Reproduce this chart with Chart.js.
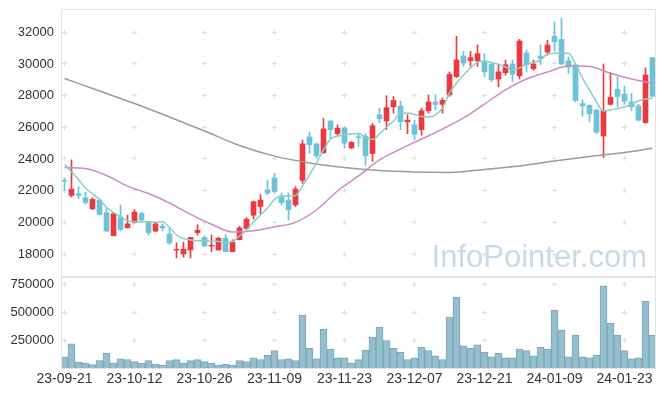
<!DOCTYPE html>
<html>
<head>
<meta charset="utf-8">
<script src="https://cdn.jsdelivr.net/npm/chart.js@4.4.0/dist/chart.umd.min.js"></script>
<style>
  html, body { margin: 0; padding: 0; background: #fff; }
  #wrap { position: relative; width: 665px; height: 396px; overflow: hidden; }
  #priceCanvas { position: absolute; left: 0; top: 0; }
  #volCanvas { position: absolute; left: 0; top: 262px; }
</style>
</head>
<body>
<div id="wrap">
  <canvas id="priceCanvas" width="665" height="292"></canvas>
  <canvas id="volCanvas" width="665" height="134"></canvas>
</div>
<script>
// x ticks (trading day index -> label)
const tickIdx = [0, 10, 20, 30, 40, 50, 60, 70, 80];
const tickLabels = ['23-09-21', '23-10-12', '23-10-26', '23-11-09', '23-11-23', '23-12-07', '23-12-21', '24-01-09', '24-01-23'];
const priceTicks = [18000, 20000, 22000, 24000, 26000, 28000, 30000, 32000];
const volTicks = [250000, 500000, 750000];

const opens = [22650, 21700, 21800, 21550, 20850, 21400, 20600, 19150, 20350, 19650, 20000, 20550, 20000, 19450, 19750, 19250, 18250, 18000, 18250, 19350,
  19050, 18500, 18250, 19000, 18150, 18900, 19600, 20450, 21000, 22050, 22800, 21600, 21400, 21100, 22650, 25400, 24950, 24400, 26400, 25600,
  25950, 24700, 25400, 25450, 24350, 26800, 26400, 27300, 27350, 26350, 26150, 25850, 27050, 27600, 27450, 28050, 29200, 30500, 30200, 30200,
  30150, 30000, 29050, 29450, 30000, 29250, 30700, 29700, 30500, 30750, 31750, 31550, 30200, 29950, 27500, 27400, 27100, 25450, 27450, 28400,
  28100, 27600, 27350, 26300, 30400];
const highs = [22800, 23950, 22250, 21900, 21550, 21400, 20900, 20600, 21100, 20450, 20800, 20650, 20050, 20000, 19900, 19650, 18700, 18750, 19050, 19850,
  19150, 19200, 19050, 19200, 18900, 19750, 20300, 21350, 21750, 22650, 23100, 21850, 21850, 22250, 25200, 25700, 25000, 26550, 26450, 26150,
  26000, 25100, 25600, 25600, 26250, 27200, 28000, 27950, 27650, 26800, 26450, 27200, 28050, 28050, 27850, 29500, 31750, 30800, 30800, 31200,
  30650, 30050, 30000, 30250, 30250, 31550, 30900, 30250, 31200, 31500, 32650, 32900, 30450, 30000, 27750, 27400, 27100, 30000, 29450, 29200,
  28600, 28150, 27450, 29750, 30400];
const lows = [22000, 21600, 21500, 21150, 20800, 20450, 19400, 19150, 19450, 19650, 19950, 20100, 19200, 19400, 19450, 18600, 17750, 17800, 17750, 19200,
  18450, 18150, 18250, 18150, 18150, 18900, 19550, 20200, 20550, 21750, 21850, 21100, 20150, 21000, 22450, 24350, 24050, 24350, 25300, 25450,
  24700, 24650, 24800, 23600, 23850, 26300, 25850, 26900, 25850, 25600, 25200, 25500, 26900, 27100, 26900, 27950, 29150, 29850, 29850, 29850,
  29200, 28900, 28550, 29300, 28900, 29050, 29500, 29600, 29950, 30550, 30800, 29950, 29400, 27600, 26700, 26350, 25600, 24100, 27400, 27300,
  27450, 27050, 26400, 26250, 27950];
const closes = [22600, 22100, 21700, 21250, 21450, 20500, 19450, 20550, 19550, 19900, 20650, 20150, 19350, 19900, 19650, 18700, 18300, 18300, 19050, 19500,
  18500, 18550, 19000, 18150, 18750, 19650, 20200, 21300, 21400, 21850, 21950, 21250, 20800, 22100, 24950, 24900, 24200, 25900, 25850, 25950,
  25000, 25050, 25350, 24200, 26100, 26550, 27250, 27700, 26350, 26450, 25550, 27050, 27600, 27450, 27700, 29350, 30250, 30050, 30400, 30650,
  29500, 29000, 29500, 29950, 29350, 31450, 29950, 30000, 30350, 31200, 31400, 30000, 29800, 27700, 27350, 26850, 25700, 27050, 27900, 27950,
  27650, 27300, 26450, 29300, 27950];
const volumes = [99000, 217000, 54000, 45000, 30000, 66000, 134000, 45000, 81000, 75000, 57000, 45000, 66000, 36000, 27000, 66000, 75000, 45000, 66000, 75000,
  57000, 45000, 27000, 36000, 27000, 66000, 57000, 90000, 75000, 116000, 155000, 75000, 81000, 66000, 472000, 179000, 81000, 348000, 170000, 90000,
  90000, 45000, 75000, 161000, 277000, 366000, 244000, 179000, 143000, 75000, 90000, 188000, 155000, 108000, 75000, 455000, 633000, 197000, 179000, 206000,
  143000, 99000, 134000, 90000, 90000, 170000, 155000, 108000, 188000, 170000, 517000, 339000, 99000, 294000, 99000, 90000, 116000, 733000, 401000, 294000,
  155000, 81000, 90000, 597000, 294000];

// moving averages
const ma5 = [23650, 23200, 22700, 22150, 21800, 21450, 20950, 20620, 20360, 20080, 20030, 20030, 20030, 20020, 20030, 19680, 19200, 18980, 18880, 18840,
  18840, 18820, 18790, 18730, 18790, 19140, 19520, 20020, 20460, 20900, 21450, 21660, 21660, 21700, 22290, 22990, 23750, 24570, 25260, 25450,
  25520, 25580, 25610, 25360, 25230, 25600, 26020, 26400, 26870, 26900, 26810, 26680, 26650, 26780, 27220, 28170, 28800, 29300, 29750, 30120,
  30190, 30090, 29970, 29810, 29620, 29750, 30000, 30090, 30250, 30630, 30670, 30670, 30670, 30000, 29110, 28360, 27600, 27030, 27090, 27190,
  27280, 27470, 27660, 27790, 27830];
const ma20Idx = [0, 3, 6, 9, 12, 15, 18, 21, 24, 27, 30, 33, 36, 39, 42, 45, 48, 51, 54, 57, 60, 63, 66, 69, 72, 75, 78, 81, 84];
const ma20 = [23460, 23400, 22960, 22290, 21820, 21220, 20500, 19880, 19390, 19470, 19710, 20000, 20780, 21980, 22930, 23940, 24630, 25260, 25890, 26590,
  27470, 28360, 29050, 29490, 29870, 29840, 29410, 29050, 28780];
const ma120Idx = [0, 5, 10, 15, 20, 25, 30, 35, 40, 45, 50, 55, 60, 65, 70, 75, 80, 84];
const ma120 = [29085, 28290, 27500, 26650, 25770, 24850, 24180, 23750, 23460, 23270, 23180, 23150, 23340, 23560, 23870, 24160, 24410, 24680];

const UP = '#ea3a40';
const DOWN = '#6cc3d8';
const GRID = '#dedede';
const BORDER = '#e3e3e3';
const FONT = '"Liberation Sans", Arial, sans-serif';
const X_MIN = -0.357;
const X_MAX = 84.357;

const idx = opens.map((_, i) => i);
const candleColors = idx.map(i => closes[i] >= opens[i] ? UP : DOWN);

// light "+" marks at tick crossings, and a thin frame round the plot
const frameAndCrosses = {
  id: 'frameAndCrosses',
  beforeDatasetsDraw(chart) {
    const {ctx, chartArea: a, scales} = chart;
    const ys = chart.canvas.id === 'priceCanvas' ? priceTicks : volTicks;
    ctx.save();
    ctx.strokeStyle = GRID;
    ctx.lineWidth = 1;
    ctx.beginPath();
    tickIdx.forEach(t => {
      const px = Math.floor(scales.x.getPixelForValue(t)) + 0.5;
      ys.forEach(v => {
        const py = Math.floor(scales.y.getPixelForValue(v)) + 0.5;
        ctx.moveTo(px - 2.5, py); ctx.lineTo(px + 2.5, py);
        ctx.moveTo(px, py - 2.5); ctx.lineTo(px, py + 2.5);
      });
    });
    ctx.stroke();
    ctx.strokeStyle = BORDER;
    ctx.strokeRect(a.left - 0.5, a.top - 0.5, a.right - a.left + 1, a.bottom - a.top + 1);
    if (chart.canvas.id === 'priceCanvas') {
      ctx.font = '31px ' + FONT;
      ctx.fillStyle = '#c8dae4';
      ctx.textAlign = 'right';
      ctx.textBaseline = 'alphabetic';
      ctx.fillText('InfoPointer.com', a.right - 8, a.bottom - 10);
    }
    ctx.restore();
  }
};

const noPad = s => { s.paddingTop = 0; s.paddingBottom = 0; s.paddingLeft = 0; s.paddingRight = 0; };
const yTickStyle = {color: '#333', font: {family: FONT, size: 13}, padding: 8, callback: v => String(v)};

new Chart(document.getElementById('priceCanvas'), {
  data: {
    datasets: [
      {type: 'line', label: 'MA5', data: idx.map(i => ({x: i, y: ma5[i]})), borderColor: '#8dcdc2', borderWidth: 1.5,
        pointRadius: 0, cubicInterpolationMode: 'monotone', order: 0},
      {type: 'line', label: 'MA20', data: ma20Idx.map((x, k) => ({x: x, y: ma20[k]})), borderColor: '#c98dc6', borderWidth: 1.5,
        pointRadius: 0, cubicInterpolationMode: 'monotone', order: 0},
      {type: 'line', label: 'MA120', data: ma120Idx.map((x, k) => ({x: x, y: ma120[k]})), borderColor: '#9b9b9b', borderWidth: 1.5,
        pointRadius: 0, cubicInterpolationMode: 'monotone', order: 0},
      {type: 'bar', label: 'body', data: idx.map(i => ({x: i, y: [opens[i], closes[i]]})), backgroundColor: candleColors,
        barThickness: 5, grouped: false, borderWidth: 0, order: 1},
      {type: 'bar', label: 'wick', data: idx.map(i => ({x: i, y: [lows[i], highs[i]]})), backgroundColor: candleColors,
        barThickness: 1, grouped: false, borderWidth: 0, order: 2}
    ]
  },
  options: {
    responsive: false,
    animation: false,
    devicePixelRatio: 1,
    layout: {padding: {top: 10, right: 10, bottom: 15, left: 0}},
    plugins: {legend: {display: false}, tooltip: {enabled: false}},
    scales: {
      x: {type: 'linear', min: X_MIN, max: X_MAX, offset: false, display: false},
      y: {
        type: 'linear', min: 16548, max: 33408,
        afterBuildTicks: s => { s.ticks = priceTicks.map(v => ({value: v})); },
        afterFit: s => { s.width = 62; noPad(s); },
        grid: {display: false, drawTicks: false}, border: {display: false},
        ticks: yTickStyle
      }
    }
  },
  plugins: [frameAndCrosses]
});

new Chart(document.getElementById('volCanvas'), {
  type: 'bar',
  data: {
    datasets: [{
      label: 'volume',
      data: idx.map(i => ({x: i, y: volumes[i]})),
      backgroundColor: '#95bfcf',
      borderColor: '#7aa5b8',
      borderWidth: 1,
      barPercentage: 1,
      categoryPercentage: 1
    }]
  },
  options: {
    responsive: false,
    animation: false,
    devicePixelRatio: 1,
    layout: {padding: {top: 15, right: 10, bottom: 0, left: 0}},
    plugins: {legend: {display: false}, tooltip: {enabled: false}},
    scales: {
      x: {
        type: 'linear', min: X_MIN, max: X_MAX, offset: false,
        afterBuildTicks: s => { s.ticks = tickIdx.map(v => ({value: v})); },
        afterFit: s => { s.height = 28; noPad(s); },
        grid: {display: false, drawTicks: false}, border: {display: false},
        ticks: {
          color: '#333', font: {family: FONT, size: 14}, padding: 3, maxRotation: 0, autoSkip: false,
          callback: v => tickLabels[tickIdx.indexOf(v)]
        }
      },
      y: {
        type: 'linear', min: 0, max: 813000,
        afterBuildTicks: s => { s.ticks = volTicks.map(v => ({value: v})); },
        afterFit: s => { s.width = 62; noPad(s); },
        grid: {display: false, drawTicks: false}, border: {display: false},
        ticks: yTickStyle
      }
    }
  },
  plugins: [frameAndCrosses]
});
</script>
</body>
</html>
